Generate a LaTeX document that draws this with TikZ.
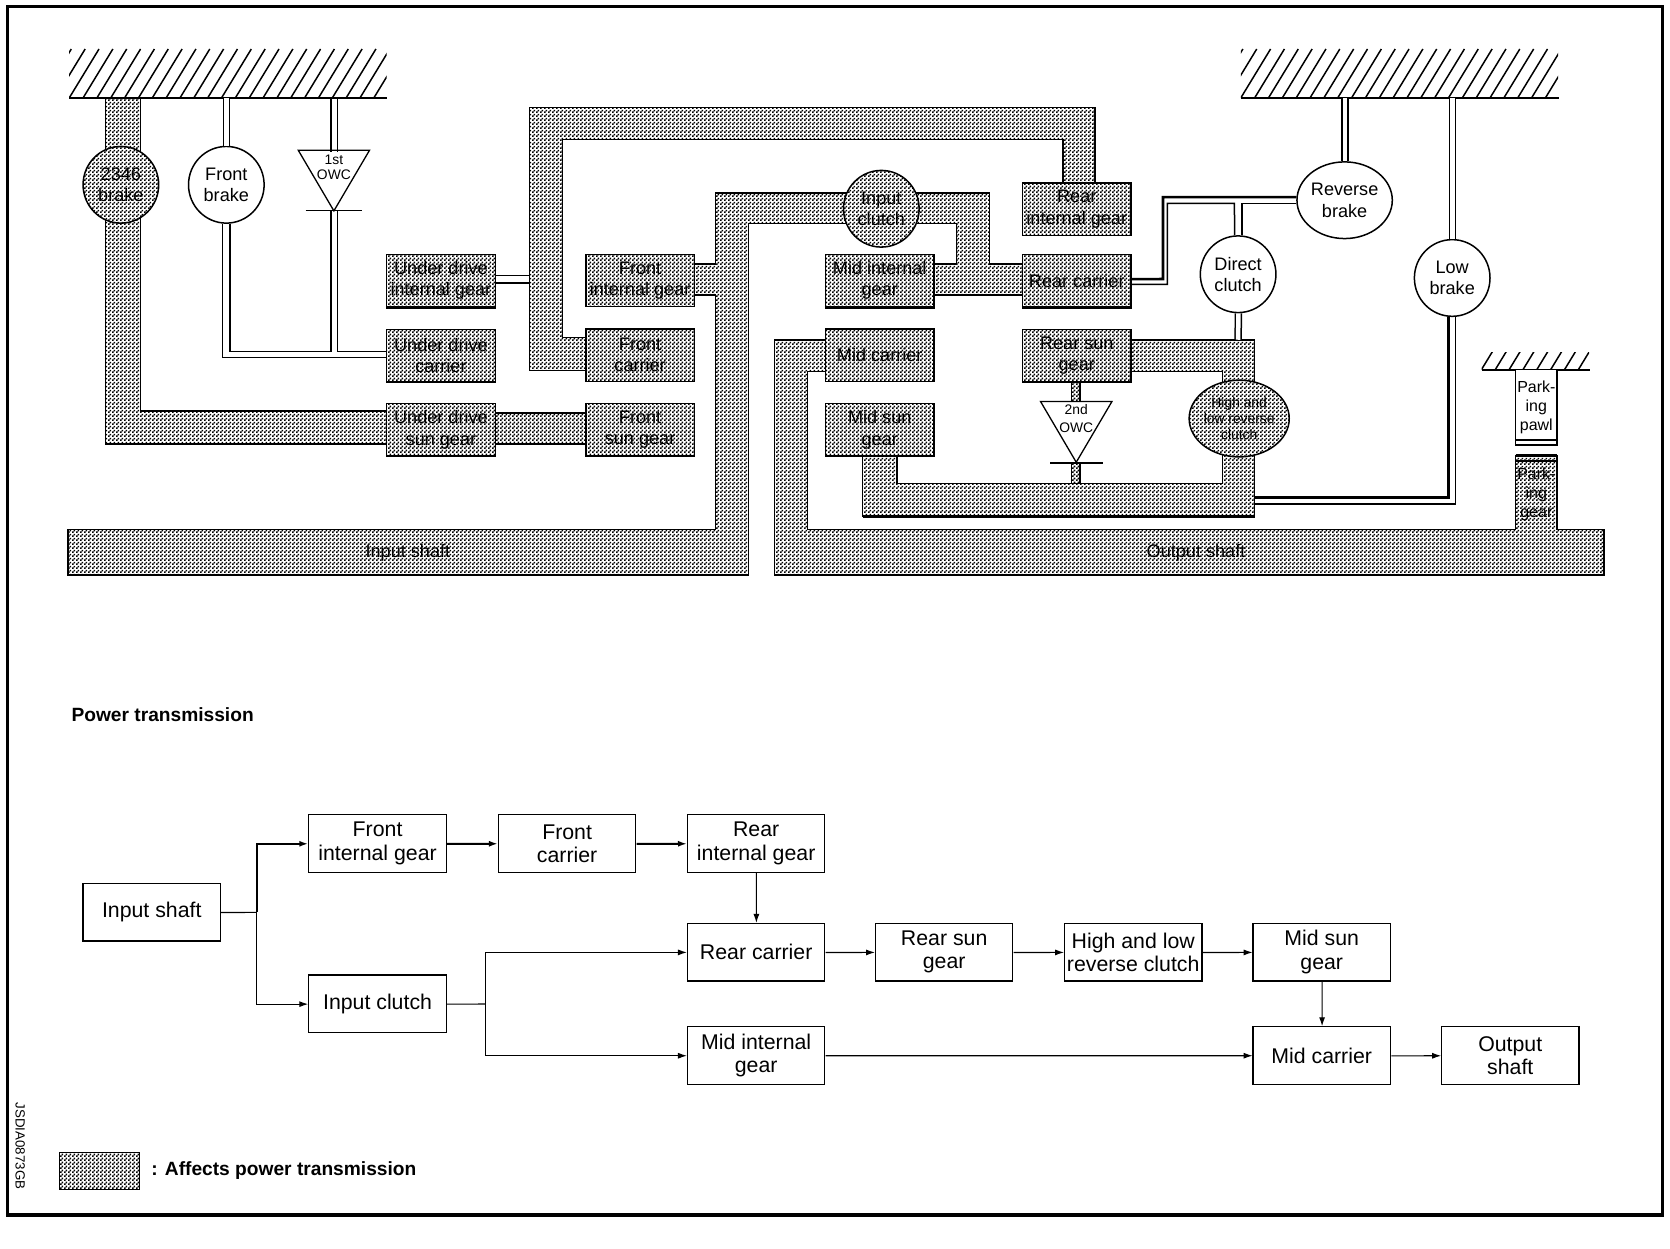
\documentclass[tikz,border=0pt]{standalone}
\usepackage{fontspec}
\setmainfont{Liberation Sans}
\usetikzlibrary{arrows.meta,calc,patterns,shapes.geometric}

\pgfdeclarepatternformonly{stipple}{\pgfqpoint{0pt}{0pt}}{\pgfqpoint{4pt}{4pt}}{\pgfqpoint{4pt}{4pt}}{%
    \pgfpathrectangle{\pgfqpoint{0pt}{0pt}}{\pgfqpoint{2pt}{2pt}}%
    \pgfpathrectangle{\pgfqpoint{2pt}{2pt}}{\pgfqpoint{2pt}{2pt}}%
    \pgfusepath{fill}}

\tikzset{
    band/.style={draw, line width=1.5pt, pattern=stipple, preaction={fill=white}},
    wire/.style={draw, line width=1.5pt},
    heavywire/.style={draw, line width=2.6pt},
    dbl/.style={draw, line width=1.5pt, double, double distance=4.5pt},
    label/.style={font=\fontsize{17}{20}\selectfont, align=center, inner sep=0pt},
    gearbox/.style={label, band, minimum width=102, minimum height=49},
    disc/.style={label, draw, line width=1.5pt, ellipse, fill=white, minimum width=71, minimum height=72},
    discband/.style={disc, band},
    ground/.style={inner sep=0pt, path picture={
        \foreach \k in {-3,...,24} {
            \draw[line width=1.5pt] ($(path picture bounding box.south west)+(\k*13,0)$) -- ++(28,-46);
        }
    }},
    flowbox/.style={draw, line width=1.2pt, font=\fontsize{20}{22}\selectfont, align=center, inner sep=0pt, minimum width=129, minimum height=54},
    flow/.style={draw, line width=1.1pt, -{Latex[length=9pt,width=6pt]}},
    flowbold/.style={flow, line width=2pt},
}

\begin{document}
\begin{tikzpicture}[x=1pt, y=-1pt, scale=1.06505, every node/.style={transform shape}]
    \useasboundingbox (0,0) rectangle (1568,1172);
    % Outer frame
    \draw[line width=3.5pt] (7,6) rectangle (1561,1141);

    % Shaded members
    \path[band] (99,92) -- (132,92) -- (132,386) -- (363,386) -- (363,417) -- (99,417) -- cycle;
    \path[band] (465,388) rectangle (550,417);
    \path[band] (497,101) -- (1028,101) -- (1028,172) -- (998,172) -- (998,131) -- (528,131)
        -- (528,317) -- (550,317) -- (550,348) -- (497,348) -- cycle;
    \path[band] (64,497) -- (672,497) -- (672,277) -- (652,277) -- (652,248) -- (672,248) -- (672,181)
        -- (929,181) -- (929,248) -- (960,248) -- (960,277) -- (877,277) -- (877,248) -- (898,248)
        -- (898,210) -- (703,210) -- (703,540) -- (64,540) -- cycle;
    \path[band] (727,319) -- (775,319) -- (775,349) -- (758,349) -- (758,497) -- (1423,497) -- (1423,428)
        -- (1462,428) -- (1462,497) -- (1506,497) -- (1506,540) -- (727,540) -- cycle;
    \path[band] (1061,319) -- (1178,319) -- (1178,485) -- (810,485) -- (810,428) -- (842,428)
        -- (842,454) -- (1148,454) -- (1148,349) -- (1061,349) -- cycle;
    \path[band] (1006,358) rectangle (1014,377);
    \path[band] (1006,435) rectangle (1014,454);
    \draw[line width=3pt] (810,485) -- (1178,485);
    \draw[line width=3pt] (1423,428) -- (1462,428);
    \draw[wire] (1423,433) -- (1462,433);

    % Grounded blocks
    \node[ground, minimum width=298, minimum height=46] (gndA) at (214,69) {};
    \node[ground, minimum width=298, minimum height=46] (gndB) at (1314,69) {};
    \node[ground, minimum width=101, minimum height=16] (gndC) at (1441.5,339) {};
    \foreach \g in {gndA,gndB,gndC} {
        \draw[line width=2pt] (\g.south west) -- (\g.south east);
    }

    % Gear members
    \foreach \name/\x/\y/\txt in {udint/414/263.5/{Under drive\\internal gear},
        udcarrier/414/334/{Under drive\\carrier}, udsun/414/403.5/{Under drive\\sun gear},
        fint/601/263.5/{Front\\internal gear}, fcarrier/601/333.5/{Front\\carrier},
        fsun/601/403.5/{Front\\sun gear}, mint/826/263.5/{Mid internal\\gear},
        mcarrier/826/333.5/{Mid carrier}, msun/826/403.5/{Mid sun\\gear},
        rint/1011/196.5/{Rear\\internal gear}, rcarrier/1011/263.5/{Rear carrier},
        rsun/1011/334/{Rear sun\\gear}} {
        \node[gearbox] (\name) at (\x,\y) {\txt};
    }
    \foreach \name in {udint,mint,rcarrier} {
        \draw[line width=3pt] (\name.south west) -- (\name.south east);
    }

    % Brakes and clutches
    \node[discband] (brakeA) at (113.5,173.5) {2346\\brake};
    \node[disc] (brakeB) at (212.5,173.5) {Front\\brake};
    \node[discband] (inclutchA) at (827.5,196) {Input\\clutch};
    \node[disc] (revbrake) at (1262.5,188) {Reverse\\brake};
    \node[disc] (dirclutch) at (1162.5,257.5) {Direct\\clutch};
    \node[disc] (lowbrake) at (1363.5,261) {Low\\brake};
    \node[discband, font=\fontsize{13}{15}\selectfont] (hlclutch) at (1163.5,393) {High and\\low reverse\\clutch};

    % One way clutches
    \draw[line width=1.3pt] (280,141) -- (347,141) -- (313.5,198) -- cycle;
    \draw[line width=1pt] (287,198) -- (340,198);
    \node[label, font=\fontsize{13}{14}\selectfont] (owcA) at (313.5,157.5) {1st\\OWC};
    \draw[line width=1.3pt] (977,377) -- (1044,377) -- (1010.5,434) -- cycle;
    \draw[line width=2pt] (986,435) -- (1036,435);
    \node[label, font=\fontsize{13}{16}\selectfont] (owcB) at (1010.5,393) {2nd\\OWC};

    % Parking
    \node[draw, line width=1.5pt, label, font=\fontsize{15}{18}\selectfont, fill=white, minimum width=39, minimum height=71] (pawl) at (1442.5,382.5) {Park-\\ing\\pawl};
    \draw[line width=2pt] (pawl.south west) ++(0,-6) -- ++(39,0);
    \node[label, font=\fontsize{15}{18}\selectfont] (parkgear) at (1442.5,464) {Park-\\ing\\gear};

    % Shaft names
    \node[label, font=\fontsize{17}{20}\selectfont] (inshaftA) at (383,519) {Input shaft};
    \node[label, font=\fontsize{17}{20}\selectfont] (outshaftA) at (1123,519) {Output shaft};

    % Plain connections
    \draw[dbl] (brakeB.north) -- (brakeB.north |- gndA.south);
    \draw[wire] (311,92) -- (311,143);
    \draw[wire] (317,92) -- (317,143);
    \draw[wire] ([xshift=3.5pt]brakeB.south) |- (311,330) -- (311,198);
    \draw[wire] (317,198) |- ([yshift=4pt]udcarrier.west);
    \draw[wire] ([xshift=-3.5pt]brakeB.south) |- ([yshift=-1.5pt]udcarrier.west);
    \draw[wire] ([yshift=5pt]udint.east) -- ++(32,0);
    \draw[wire] ([yshift=-2pt]udint.east) -- ++(32,0);
    \draw[dbl] (revbrake.north) -- (revbrake.north |- gndB.south);
    \draw[heavywire] ([yshift=3pt]revbrake.west) -| (1092,262) -- ([yshift=1.5pt]rcarrier.east);
    \draw[wire] ([yshift=-3.5pt]rcarrier.east) -| (1096,191) -- (1159,191) -- ([xshift=-3.5pt]dirclutch.north);
    \draw[wire] ([xshift=3.5pt]dirclutch.north) |- ([yshift=-3pt]revbrake.west);
    \draw[dbl] (dirclutch.south) -- (1162.5,319);
    \draw[dbl] (lowbrake.north) -- (lowbrake.north |- gndB.south);
    \draw[heavywire] ([xshift=-3.5pt]lowbrake.south) |- (1178,467);
    \draw[wire] ([xshift=3pt]lowbrake.south) |- (1178,473);

    % Power transmission
    \node[font=\fontsize{18}{20}\selectfont\bfseries, anchor=west, inner sep=0pt] (ptitle) at (67,671) {Power transmission};
    \node[flowbox] (input) at (142.5,856.5) {Input shaft};
    \node[flowbox] (frontint) at (354.5,792) {Front\\internal gear};
    \node[flowbox] (frontcar) at (532.5,792) {Front\\carrier};
    \node[flowbox] (rearint) at (710,792) {Rear\\internal gear};
    \node[flowbox] (inclutch) at (354.5,942.5) {Input clutch};
    \node[flowbox] (rearcar) at (710,894) {Rear carrier};
    \node[flowbox] (rearsun) at (886.5,894) {Rear sun\\gear};
    \node[flowbox] (hiclutch) at (1064,894) {High and low\\reverse clutch};
    \node[flowbox] (midsun) at (1241,894) {Mid sun\\gear};
    \node[flowbox] (midint) at (710,991) {Mid internal\\gear};
    \node[flowbox] (midcar) at (1241,991) {Mid carrier};
    \node[flowbox] (output) at (1418,991) {Output\\shaft};
    \coordinate (splitA) at (241,856.5);
    \coordinate (splitB) at (456,942.5);

    \draw[wire, line width=1.1pt] (input) -- (splitA);
    \draw[flowbold] (splitA) |- (frontint);
    \draw[flow] (splitA) |- (inclutch);
    \draw[flowbold] (frontint) -- (frontcar);
    \draw[flowbold] (frontcar) -- (rearint);
    \draw[flow] (rearint) -- (rearcar);
    \draw[wire, line width=1.1pt] (inclutch) -- (splitB);
    \draw[flow] (splitB) |- (rearcar);
    \draw[flow] (splitB) |- (midint);
    \draw[flow] (rearcar) -- (rearsun);
    \draw[flow] (rearsun) -- (hiclutch);
    \draw[flow] (hiclutch) -- (midsun);
    \draw[flow] (midsun) -- (midcar);
    \draw[flow] (midint) -- (midcar);
    \draw[flow] (midcar) -- (output);

    % Legend
    \node[band, minimum width=75, minimum height=35, inner sep=0pt] (legendbox) at (93.5,1099.5) {};
    \node[font=\fontsize{18}{20}\selectfont\bfseries, anchor=west, inner sep=0pt] (legendtext) at (142,1099) {: Affects power transmission};
    \node[font=\fontsize{12.5}{14}\selectfont, rotate=-90, inner sep=0pt] (drawingno) at (19,1076) {JSDIA0873GB};
\end{tikzpicture}
\end{document}
